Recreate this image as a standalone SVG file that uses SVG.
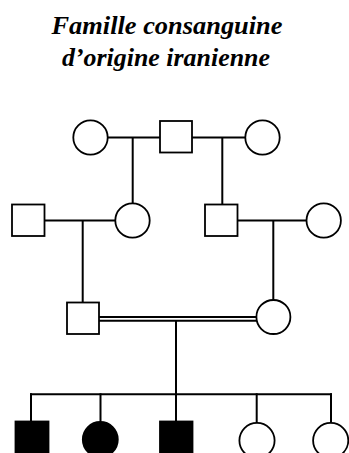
<svg xmlns="http://www.w3.org/2000/svg" width="349" height="453" viewBox="0 0 349 453">
<style>
.t{font-family:"Liberation Serif","Times New Roman",serif;font-weight:bold;font-style:italic;font-size:25px;fill:#000}
.o{fill:#fff;stroke:#000;stroke-width:1.8}
.f{fill:#000;stroke:#000;stroke-width:1.8}
.l{stroke:#000;stroke-width:2;fill:none}
</style>
<rect width="349" height="453" fill="#fff"/>
<g id="title">
<text class="t" x="167" y="34" text-anchor="middle" textLength="231" lengthAdjust="spacingAndGlyphs">Famille consanguine</text>
<text class="t" x="166" y="66" text-anchor="middle" textLength="208" lengthAdjust="spacingAndGlyphs">d’origine iranienne</text>
</g>
<g id="connectors">
<line class="l" x1="107" y1="137.5" x2="160" y2="137.5"/>
<line class="l" x1="192" y1="137.5" x2="245" y2="137.5"/>
<line class="l" x1="132.7" y1="137.5" x2="132.7" y2="203.5"/>
<line class="l" x1="222.3" y1="137.5" x2="222.3" y2="204.5"/>
<line class="l" x1="44.5" y1="220.5" x2="115" y2="220.5"/>
<line class="l" x1="237.5" y1="220.5" x2="306" y2="220.5"/>
<line class="l" x1="82.7" y1="220.5" x2="82.7" y2="302.5"/>
<line class="l" x1="273.3" y1="220.5" x2="273.3" y2="300.5"/>
<line class="l" x1="99" y1="317" x2="256.5" y2="317"/>
<line class="l" x1="99" y1="320.7" x2="256.5" y2="320.7"/>
<line class="l" x1="176" y1="320.7" x2="176" y2="394.3"/>
<line class="l" x1="30" y1="394.3" x2="332" y2="394.3"/>
<line class="l" x1="31" y1="393.3" x2="31" y2="421"/>
<line class="l" x1="100.5" y1="393.3" x2="100.5" y2="421.5"/>
<line class="l" x1="176" y1="393.3" x2="176" y2="421"/>
<line class="l" x1="256.7" y1="393.3" x2="256.7" y2="422.5"/>
<line class="l" x1="331" y1="393.3" x2="331" y2="422.5"/>
</g>
<g id="I-1"><circle class="o" cx="90.5" cy="137.5" r="17.2"/></g>
<g id="I-2"><rect class="o" x="160" y="121" width="32" height="31.5"/></g>
<g id="I-3"><circle class="o" cx="262.5" cy="137.5" r="17.2"/></g>
<g id="II-1"><rect class="o" x="12" y="204.5" width="32.5" height="31.5"/></g>
<g id="II-2"><circle class="o" cx="132.5" cy="220.5" r="17.2"/></g>
<g id="II-3"><rect class="o" x="205" y="204.5" width="32.5" height="31.5"/></g>
<g id="II-4"><circle class="o" cx="323.7" cy="220.5" r="17.2"/></g>
<g id="III-1"><rect class="o" x="67" y="302.5" width="32" height="31.5"/></g>
<g id="III-2"><circle class="o" cx="273.4" cy="317" r="17"/></g>
<g id="IV-1"><rect class="f" x="15.5" y="421.5" width="33" height="33"/></g>
<g id="IV-2"><circle class="f" cx="100.3" cy="439.5" r="17.5"/></g>
<g id="IV-3"><rect class="f" x="160" y="421.5" width="32.5" height="33"/></g>
<g id="IV-4"><circle class="o" cx="257" cy="440.5" r="17.6"/></g>
<g id="IV-5"><circle class="o" cx="330.7" cy="440.5" r="17.6"/></g>
</svg>
